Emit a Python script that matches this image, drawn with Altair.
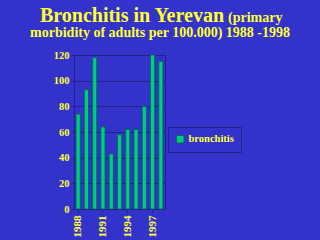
import altair as alt
import pandas as pd

years = ["1988", "1989", "1990", "1991", "1992", "1993", "1994", "1995", "1996", "1997", "1998"]
values = [74, 93, 118, 64, 43, 58, 62, 62, 80, 120, 115]
series = ["bronchitis"] * len(years)
tick_years = ["1988", "1991", "1994", "1997"]

df = pd.DataFrame({"year": years, "value": values, "series": series})

BG = "#3333cc"
YEL = "#ffff33"
GRID = "#22228a"
FONT = "Liberation Serif"

bars = alt.Chart(df).mark_bar(stroke="#006644", strokeWidth=0.8).encode(
    x=alt.X("year:O", sort=years,
            scale=alt.Scale(paddingInner=0.5, paddingOuter=0.25),
            axis=alt.Axis(title=None, values=tick_years, labelAngle=-90, labelColor=YEL,
                          labelFont=FONT, labelFontWeight="bold", labelFontSize=11,
                          domainColor=GRID, tickColor=GRID, tickSize=4, labelPadding=2)),
    y=alt.Y("value:Q", scale=alt.Scale(domain=[0, 120]),
            axis=alt.Axis(title=None, values=[0, 20, 40, 60, 80, 100, 120], labelColor=YEL,
                          labelFont=FONT, labelFontWeight="bold", labelFontSize=10.5,
                          gridColor=GRID, domainColor=GRID, tickColor=GRID, tickSize=3,
                          labelPadding=2)),
    color=alt.Color("series:N", scale=alt.Scale(range=["#00cc88"]),
                    legend=alt.Legend(title=None, orient="none", legendX=94, legendY=72,
                                      symbolType="square", symbolSize=55,
                                      symbolStrokeColor="#006644", symbolStrokeWidth=0.8,
                                      labelColor=YEL, labelFont=FONT, labelFontWeight="bold",
                                      labelFontSize=10.5, labelOffset=3, strokeColor=GRID,
                                      padding=7, labelLimit=200)),
)

t1 = alt.Chart().mark_text(text="Bronchitis in Yerevan", align="right", baseline="alphabetic",
                           font=FONT, fontWeight="bold", fontSize=20, color=YEL).encode(
    x=alt.value(224 - 74), y=alt.value(22 - 55))
t2 = alt.Chart().mark_text(text="(primary", align="left", baseline="alphabetic",
                           font=FONT, fontWeight="bold", fontSize=14, color=YEL).encode(
    x=alt.value(228 - 74), y=alt.value(22 - 55))
t3 = alt.Chart().mark_text(text="morbidity of adults per 100.000) 1988 -1998", align="center",
                           baseline="alphabetic", font=FONT, fontWeight="bold", fontSize=14,
                           color=YEL).encode(
    x=alt.value(160 - 74), y=alt.value(37 - 55))

chart = alt.layer(bars, t1, t2, t3).properties(
    width=91, height=154, background=BG,
    autosize=alt.AutoSizeParams(type="none"),
    padding={"left": 74, "top": 55, "right": 155, "bottom": 31},
).configure_view(stroke=GRID, strokeWidth=1)

chart.save("out.html", embed_options={"renderer": "svg", "actions": False})
